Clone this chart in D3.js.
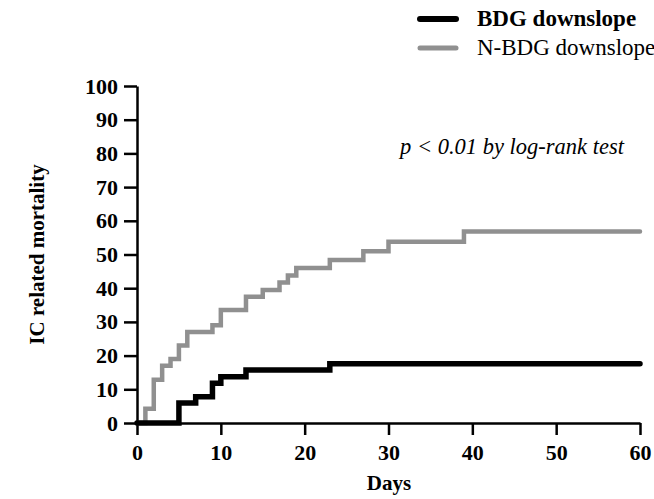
<!DOCTYPE html>
<html>
<head>
<meta charset="utf-8">
<script src="https://cdn.jsdelivr.net/npm/d3@7"></script>
<style>
  body { margin: 0; background: #fff; }
  svg { display: block; }
  .axis text { font-family: "Liberation Serif", "Times New Roman", serif; font-weight: bold; font-size: 22px; fill: #000; }
  .axis path, .axis line { stroke: #000; stroke-width: 2.5px; }
</style>
</head>
<body>
<svg id="chart" width="654" height="499"></svg>
<script>
// cumulative IC related mortality (%) by day
const bdgDays = [0, 5, 7, 9, 10, 13, 23, 60];
const bdgValues = [0, 5.9, 7.8, 11.8, 13.7, 15.7, 17.6, 17.6];

const nbdgDays = [0, 1, 2, 3, 4, 5, 6, 9, 10, 13, 15, 17, 18, 19, 23, 27, 30, 39, 60];
const nbdgValues = [0, 4.2, 12.8, 17, 19, 23, 27, 29, 33.5, 37.5, 39.5, 41.7, 43.8, 46, 48.4, 51, 53.8, 56.8, 56.8];

const xTicks = [0, 10, 20, 30, 40, 50, 60];
const yTicks = [0, 10, 20, 30, 40, 50, 60, 70, 80, 90, 100];

const seriesNames = ['BDG downslope', 'N-BDG downslope'];
const seriesColors = ['#000000', '#909090'];

const svg = d3.select('#chart');

const x = d3.scaleLinear().domain([0, 60]).range([137, 640]);
const y = d3.scaleLinear().domain([0, 100]).range([423, 86]);

// axes
svg.append('g')
  .attr('class', 'axis')
  .attr('transform', `translate(${x(0)},0)`)
  .call(d3.axisLeft(y).tickValues(yTicks).tickSize(13).tickPadding(6).tickSizeOuter(0));

svg.append('g')
  .attr('class', 'axis')
  .attr('transform', `translate(0,${y(0)})`)
  .call(d3.axisBottom(x).tickValues(xTicks).tickSize(12).tickPadding(9).tickSizeOuter(0));

// axis titles
svg.append('text')
  .attr('x', 389)
  .attr('y', 490)
  .attr('text-anchor', 'middle')
  .style('font-family', '"Liberation Serif", serif')
  .style('font-weight', 'bold')
  .style('font-size', '21px')
  .text('Days');

svg.append('text')
  .attr('transform', `translate(44,${(y(0) + y(100)) / 2}) rotate(-90)`)
  .attr('text-anchor', 'middle')
  .style('font-family', '"Liberation Serif", serif')
  .style('font-weight', 'bold')
  .style('font-size', '21px')
  .text('IC related mortality');

// step curves
const line = d3.line()
  .x((d) => x(d[0]))
  .y((d) => y(d[1]))
  .curve(d3.curveStepAfter);

const series = [
  { days: nbdgDays, values: nbdgValues, color: seriesColors[1], width: 4.5 },
  { days: bdgDays, values: bdgValues, color: seriesColors[0], width: 5.5 },
];

series.forEach((s) => {
  svg.append('path')
    .datum(d3.zip(s.days, s.values))
    .attr('d', line)
    .attr('fill', 'none')
    .attr('stroke', s.color)
    .attr('stroke-width', s.width)
    .attr('stroke-linecap', 'round')
    .attr('stroke-linejoin', 'miter');
});

// p-value note
svg.append('text')
  .attr('x', 400)
  .attr('y', 154)
  .style('font-family', '"Liberation Serif", serif')
  .style('font-style', 'italic')
  .style('font-size', '22.5px')
  .text('p < 0.01 by log-rank test');

// legend
const legend = svg.append('g');
seriesNames.forEach((name, i) => {
  const ly = 19 + i * 29;
  legend.append('line')
    .attr('x1', 420).attr('x2', 456)
    .attr('y1', ly).attr('y2', ly)
    .attr('stroke', seriesColors[i])
    .attr('stroke-width', i === 0 ? 6 : 5)
    .attr('stroke-linecap', 'round');
  legend.append('text')
    .attr('x', 477)
    .attr('y', ly + 7)
    .style('font-family', '"Liberation Serif", serif')
    .style('font-weight', i === 0 ? 'bold' : 'normal')
    .style('font-size', '23px')
    .text(name);
});
</script>
</body>
</html>
